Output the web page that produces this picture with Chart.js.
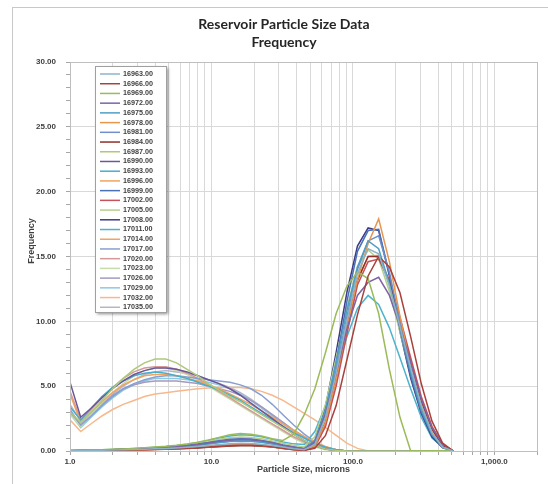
<!DOCTYPE html>
<html>
<head>
<meta charset="utf-8">
<script src="https://cdn.jsdelivr.net/npm/chart.js@4.4.1/dist/chart.umd.min.js"></script>
<style>
html, body { margin: 0; padding: 0; background: #fff; }
</style>
</head>
<body>
<canvas id="myChart" width="548" height="484"></canvas>
<script>
// particle size bins (microns)
const sizes = [1, 1.19, 1.41, 1.68, 2, 2.38, 2.83, 3.36, 4, 4.76, 5.66, 6.73, 8, 9.51, 11.3, 13.5, 16, 19, 22.6, 26.9, 32, 38.1, 45.3, 53.8, 64, 76.1, 90.5, 107.6, 128, 152, 181, 215, 256, 304, 362, 431, 512];

const names = ['16963.00', '16966.00', '16969.00', '16972.00', '16975.00', '16978.00', '16981.00', '16984.00', '16987.00', '16990.00', '16993.00', '16996.00', '16999.00', '17002.00', '17005.00', '17008.00', '17011.00', '17014.00', '17017.00', '17020.00', '17023.00', '17026.00', '17029.00', '17032.00', '17035.00'];

const colors = ['#8CB4C6', '#A8403C', '#9BBB59', '#7D64A6', '#4F9FC4', '#E8964E', '#6F8FC8', '#8E2F2C', '#AFC97A', '#6B579A', '#46AECB', '#F0A35E', '#4A72B5', '#C8505A', '#B5D08A', '#3E3A86', '#4DB3CC', '#EEA566', '#889FCF', '#D49A9A', '#C6DBA8', '#A499C0', '#8CC9E2', '#F6B88C', '#B4B4CC'];

// frequency values per sample, one per size bin
const f16963 = [0.02, 0.03, 0.04, 0.06, 0.08, 0.1, 0.12, 0.14, 0.17, 0.2, 0.24, 0.29, 0.35, 0.42, 0.5, 0.56, 0.6, 0.58, 0.52, 0.42, 0.3, 0.18, 0.1, 0.5, 2.6, 6.0, 10.0, 13.7, 15.6, 15.2, 12.7, 9.6, 6.4, 3.5, 1.4, 0.3, 0];
const f16966 = [0, 0.01, 0.02, 0.03, 0.05, 0.07, 0.09, 0.11, 0.13, 0.15, 0.18, 0.22, 0.26, 0.31, 0.36, 0.41, 0.44, 0.44, 0.4, 0.32, 0.22, 0.12, 0.05, 0.2, 1.2, 3.5, 7.0, 10.5, 13.5, 15.0, 14.2, 12.2, 8.8, 5.2, 2.3, 0.6, 0];
const f16969 = [0.05, 0.06, 0.08, 0.1, 0.13, 0.16, 0.2, 0.25, 0.3, 0.36, 0.44, 0.54, 0.68, 0.85, 1.05, 1.25, 1.35, 1.3, 1.15, 0.95, 0.82, 1.3, 2.8, 4.8, 7.6, 10.6, 12.7, 13.8, 13.3, 10.6, 6.3, 2.6, 0, 0, 0, 0, 0];
const f16972 = [0.02, 0.03, 0.05, 0.07, 0.1, 0.13, 0.16, 0.2, 0.24, 0.28, 0.33, 0.4, 0.5, 0.62, 0.75, 0.85, 0.9, 0.88, 0.8, 0.65, 0.45, 0.3, 0.15, 0.7, 2.9, 6.0, 9.4, 12.0, 13.0, 13.4, 12.0, 9.6, 6.8, 4.0, 1.8, 0.5, 0];
const f16975 = [0.02, 0.03, 0.04, 0.06, 0.08, 0.11, 0.14, 0.17, 0.21, 0.25, 0.3, 0.36, 0.44, 0.54, 0.65, 0.74, 0.78, 0.76, 0.68, 0.54, 0.38, 0.25, 0.2, 0.8, 3.2, 6.8, 10.8, 14.2, 16.2, 15.6, 12.9, 9.5, 6.1, 3.2, 1.3, 0.3, 0];
const f16978 = [0, 0.01, 0.02, 0.03, 0.05, 0.07, 0.09, 0.11, 0.13, 0.16, 0.19, 0.23, 0.28, 0.33, 0.39, 0.44, 0.47, 0.46, 0.41, 0.32, 0.21, 0.12, 0.1, 0.4, 2.2, 5.5, 9.5, 13.2, 16.0, 17.9, 14.6, 10.4, 6.5, 3.4, 1.4, 0.3, 0];
const f16981 = [0.02, 0.03, 0.05, 0.07, 0.09, 0.12, 0.15, 0.18, 0.22, 0.26, 0.31, 0.37, 0.45, 0.55, 0.66, 0.75, 0.8, 0.78, 0.7, 0.56, 0.4, 0.26, 0.15, 0.6, 2.8, 6.3, 10.3, 14.0, 16.2, 16.6, 13.8, 9.9, 6.3, 3.3, 1.3, 0.3, 0];
const f16984 = [0, 0.01, 0.02, 0.03, 0.04, 0.06, 0.08, 0.1, 0.12, 0.14, 0.17, 0.2, 0.24, 0.28, 0.33, 0.38, 0.41, 0.41, 0.37, 0.3, 0.2, 0.1, 0.05, 0.4, 2.2, 5.5, 9.5, 13.2, 15.0, 15.0, 13.0, 10.0, 6.8, 3.9, 1.7, 0.4, 0];
const f16987 = [3.0, 2.2, 3.0, 3.9, 4.8, 5.6, 6.3, 6.8, 7.1, 7.1, 6.8, 6.3, 5.8, 5.2, 4.7, 4.2, 3.8, 3.3, 2.8, 2.3, 1.8, 1.3, 0.8, 0.4, 0.15, 0.05, 0, 0, 0, 0, 0, 0, 0, 0, 0, 0, 0];
const f16990 = [5.3, 2.6, 3.3, 4.1, 4.8, 5.4, 5.9, 6.2, 6.4, 6.4, 6.3, 6.1, 5.8, 5.5, 5.2, 4.8, 4.3, 3.7, 3.1, 2.5, 1.9, 1.3, 0.8, 0.4, 0.15, 0.05, 0, 0, 0, 0, 0, 0, 0, 0, 0, 0, 0];
const f16993 = [3.4, 2.4, 3.3, 4.2, 4.9, 5.4, 5.8, 6.0, 6.1, 6.0, 5.8, 5.6, 5.3, 5.0, 4.7, 4.3, 3.9, 3.4, 2.9, 2.4, 1.9, 1.4, 1.0, 0.6, 0.3, 0.1, 0, 0, 0, 0, 0, 0, 0, 0, 0, 0, 0];
const f16996 = [4.4, 2.2, 3.0, 3.8, 4.5, 5.1, 5.5, 5.8, 5.9, 5.9, 5.8, 5.6, 5.4, 5.1, 4.8, 4.4, 4.0, 3.6, 3.1, 2.6, 2.1, 1.6, 1.1, 0.7, 0.35, 0.1, 0, 0, 0, 0, 0, 0, 0, 0, 0, 0, 0];
const f16999 = [0.02, 0.03, 0.05, 0.07, 0.1, 0.13, 0.16, 0.2, 0.25, 0.3, 0.36, 0.44, 0.54, 0.66, 0.8, 0.9, 0.95, 0.92, 0.82, 0.66, 0.46, 0.3, 0.15, 0.6, 2.9, 6.8, 11.5, 15.4, 17.0, 17.1, 13.6, 9.4, 5.8, 3.0, 1.2, 0.3, 0];
const f17002 = [0, 0.01, 0.02, 0.03, 0.05, 0.07, 0.09, 0.11, 0.14, 0.17, 0.2, 0.24, 0.29, 0.35, 0.41, 0.46, 0.5, 0.49, 0.44, 0.35, 0.24, 0.14, 0.05, 0.3, 1.9, 5.0, 9.0, 12.8, 14.6, 14.8, 13.2, 10.3, 7.2, 4.2, 1.9, 0.5, 0];
const f17005 = [0.03, 0.04, 0.06, 0.08, 0.11, 0.14, 0.18, 0.22, 0.27, 0.33, 0.4, 0.49, 0.6, 0.74, 0.9, 1.02, 1.08, 1.04, 0.94, 0.78, 0.6, 0.45, 0.3, 1.1, 3.6, 7.2, 11.0, 14.2, 15.5, 14.8, 12.3, 9.2, 6.0, 3.2, 1.3, 0.3, 0];
const f17008 = [0.02, 0.03, 0.05, 0.07, 0.1, 0.13, 0.16, 0.2, 0.24, 0.29, 0.35, 0.42, 0.51, 0.62, 0.74, 0.83, 0.87, 0.84, 0.75, 0.6, 0.42, 0.27, 0.2, 0.8, 3.4, 7.6, 12.2, 15.8, 17.2, 17.0, 13.5, 9.2, 5.6, 2.9, 1.1, 0.25, 0];
const f17011 = [0.04, 0.05, 0.07, 0.09, 0.12, 0.15, 0.19, 0.23, 0.28, 0.34, 0.42, 0.52, 0.65, 0.82, 1.0, 1.15, 1.25, 1.22, 1.1, 0.9, 0.7, 0.55, 0.5, 1.5, 3.5, 6.0, 8.8, 11.0, 12.0, 11.3, 9.5, 7.2, 4.8, 2.6, 1.0, 0.3, 0];
const f17014 = [0, 0.01, 0.02, 0.03, 0.04, 0.06, 0.08, 0.1, 0.12, 0.15, 0.18, 0.22, 0.27, 0.32, 0.38, 0.43, 0.46, 0.45, 0.4, 0.32, 0.22, 0.13, 0.05, 0.4, 2.3, 5.6, 9.6, 13.1, 15.0, 15.1, 13.0, 9.9, 6.7, 3.7, 1.6, 0.4, 0];
const f17017 = [3.2, 2.0, 2.7, 3.5, 4.2, 4.8, 5.2, 5.5, 5.7, 5.8, 5.8, 5.7, 5.6, 5.5, 5.4, 5.3, 5.1, 4.8, 4.3, 3.6, 2.8, 2.0, 1.3, 0.7, 0.3, 0.1, 0, 0, 0, 0, 0, 0, 0, 0, 0, 0, 0];
const f17020 = [4.6, 2.4, 3.2, 4.1, 4.9, 5.6, 6.1, 6.4, 6.5, 6.5, 6.3, 6.0, 5.6, 5.1, 4.6, 4.1, 3.6, 3.1, 2.6, 2.1, 1.6, 1.1, 0.7, 0.4, 0.15, 0.05, 0, 0, 0, 0, 0, 0, 0, 0, 0, 0, 0];
const f17023 = [2.8, 1.9, 2.8, 3.7, 4.5, 5.2, 5.8, 6.2, 6.4, 6.4, 6.2, 5.9, 5.5, 5.0, 4.5, 4.0, 3.5, 3.0, 2.5, 2.0, 1.5, 1.0, 0.6, 0.3, 0.1, 0, 0, 0, 0, 0, 0, 0, 0, 0, 0, 0, 0];
const f17026 = [3.0, 2.0, 2.8, 3.6, 4.3, 4.8, 5.1, 5.3, 5.4, 5.4, 5.4, 5.3, 5.2, 5.0, 4.8, 4.6, 4.3, 3.9, 3.4, 2.8, 2.2, 1.6, 1.1, 0.6, 0.3, 0.1, 0, 0, 0, 0, 0, 0, 0, 0, 0, 0, 0];
const f17029 = [2.9, 1.8, 2.6, 3.4, 4.1, 4.7, 5.1, 5.4, 5.6, 5.6, 5.6, 5.5, 5.4, 5.3, 5.1, 4.8, 4.4, 3.9, 3.3, 2.7, 2.1, 1.5, 1.0, 0.6, 0.3, 0.1, 0, 0, 0, 0, 0, 0, 0, 0, 0, 0, 0];
const f17032 = [2.4, 1.5, 2.1, 2.7, 3.2, 3.6, 3.9, 4.2, 4.4, 4.5, 4.6, 4.7, 4.8, 4.85, 4.9, 4.9, 4.9, 4.8, 4.6, 4.3, 3.9, 3.4, 2.9, 2.4, 1.8, 1.2, 0.6, 0.2, 0, 0, 0, 0, 0, 0, 0, 0, 0];
const f17035 = [3.6, 2.3, 3.0, 3.7, 4.4, 5.0, 5.5, 5.9, 6.1, 6.2, 6.1, 6.0, 5.8, 5.5, 5.2, 4.9, 4.5, 4.0, 3.4, 2.8, 2.2, 1.6, 1.0, 0.6, 0.25, 0.08, 0, 0, 0, 0, 0, 0, 0, 0, 0, 0, 0];

const allSeries = [f16963, f16966, f16969, f16972, f16975, f16978, f16981, f16984, f16987, f16990, f16993, f16996, f16999, f17002, f17005, f17008, f17011, f17014, f17017, f17020, f17023, f17026, f17029, f17032, f17035];

// axis ticks / gridlines
const xGrid = [1, 2, 3, 4, 5, 6, 7, 8, 9, 10, 20, 30, 40, 50, 60, 70, 80, 90, 100, 200, 300, 400, 500, 600, 700, 800, 900, 1000, 2000];
const xTickValues = [1, 10, 100, 1000];
const xTickText = ['1.0', '10.0', '100.0', '1,000.0'];

document.addEventListener('DOMContentLoaded', function() {
    const ctx = document.getElementById('myChart');

    const datasets = allSeries.map((vals, i) => ({
        label: names[i],
        data: sizes.map((s, j) => ({ x: s, y: vals[j] })),
        borderColor: colors[i],
        borderWidth: 1.5,
        pointRadius: 0,
        fill: false,
        tension: 0
    }));

    // titles, frame and the boxed legend
    const decor = {
        id: 'decor',
        beforeDraw(chart) {
            const c = chart.ctx;
            c.save();
            c.fillStyle = '#fff';
            c.fillRect(0, 0, chart.width, chart.height);
            c.strokeStyle = '#c8c8c8';
            c.lineWidth = 1;
            c.strokeRect(12.5, 7.5, 600, 520);
            c.restore();
        },
        afterDraw(chart) {
            const c = chart.ctx, a = chart.chartArea;
            c.save();
            c.strokeStyle = '#bfbfbf';
            c.lineWidth = 1;
            c.strokeRect(Math.round(a.left) + 0.5, Math.round(a.top) + 0.5, Math.round(a.right - a.left), Math.round(a.bottom - a.top));

            c.fillStyle = '#262626';
            c.textAlign = 'center';
            c.textBaseline = 'middle';
            c.font = 'bold 14px Lato';
            c.fillText('Reservoir Particle Size Data', 284, 24);
            c.fillText('Frequency', 284, 42);

            c.fillStyle = '#404040';
            c.font = 'bold 9px "Liberation Sans"';
            c.fillText('Particle Size, microns', (a.left + a.right) / 2, 470);
            c.translate(32, 241);
            c.rotate(-Math.PI / 2);
            c.fillText('Frequency', 0, 0);
            c.setTransform(1, 0, 0, 1, 0, 0);

            // legend box
            const lx = a.left + 25, ly = a.top + 4, lw = 71, lh = 246;
            c.save();
            c.shadowColor = 'rgba(0,0,0,0.45)';
            c.shadowBlur = 3;
            c.shadowOffsetX = 2;
            c.shadowOffsetY = 2;
            c.fillStyle = '#fff';
            c.fillRect(lx, ly, lw, lh);
            c.restore();
            c.strokeStyle = '#a0a0a0';
            c.strokeRect(lx + 0.5, ly + 0.5, lw, lh);

            c.textAlign = 'left';
            c.font = 'bold 7.2px "Liberation Sans"';
            names.forEach((n, i) => {
                const y = ly + 8 + i * 9.72;
                c.strokeStyle = colors[i];
                c.lineWidth = 1.5;
                c.beginPath();
                c.moveTo(lx + 5, y);
                c.lineTo(lx + 25, y);
                c.stroke();
                c.fillStyle = '#404040';
                c.fillText(n, lx + 28, y);
            });
            c.restore();
        }
    };

    new Chart(ctx, {
        type: 'line',
        data: { datasets: datasets },
        options: {
            responsive: false,
            animation: false,
            layout: { padding: { left: 0, right: 11, top: 62, bottom: 0 } },
            scales: {
                x: {
                    type: 'logarithmic',
                    min: 1,
                    max: 2000,
                    afterBuildTicks: (scale) => { scale.ticks = xGrid.map(v => ({ value: v })); },
                    afterFit: (scale) => { scale.height = 33; },
                    ticks: {
                        autoSkip: false,
                        maxRotation: 0,
                        padding: 2,
                        color: '#404040',
                        font: { family: 'Liberation Sans', size: 8, weight: 'bold' },
                        callback: (v) => {
                            const k = xTickValues.indexOf(v);
                            return k >= 0 ? xTickText[k] : '';
                        }
                    },
                    grid: { color: '#d9d9d9', tickColor: '#a6a6a6', tickLength: 4 },
                    border: { color: '#a6a6a6' }
                },
                y: {
                    min: 0,
                    max: 30,
                    afterFit: (scale) => { scale.width = 70; },
                    ticks: {
                        stepSize: 1,
                        autoSkip: false,
                        padding: 10,
                        color: '#404040',
                        font: { family: 'Liberation Sans', size: 8, weight: 'bold' },
                        callback: (v) => (v % 5 === 0 ? v.toFixed(2) : '')
                    },
                    grid: {
                        color: (c) => (c.tick && c.tick.value % 5 === 0 ? '#d9d9d9' : 'rgba(0,0,0,0)'),
                        tickColor: '#a6a6a6',
                        tickLength: 4
                    },
                    border: { color: '#a6a6a6' }
                }
            },
            plugins: {
                legend: { display: false },
                title: { display: false },
                tooltip: { enabled: false }
            }
        },
        plugins: [decor]
    });
});
</script>
</body>
</html>
